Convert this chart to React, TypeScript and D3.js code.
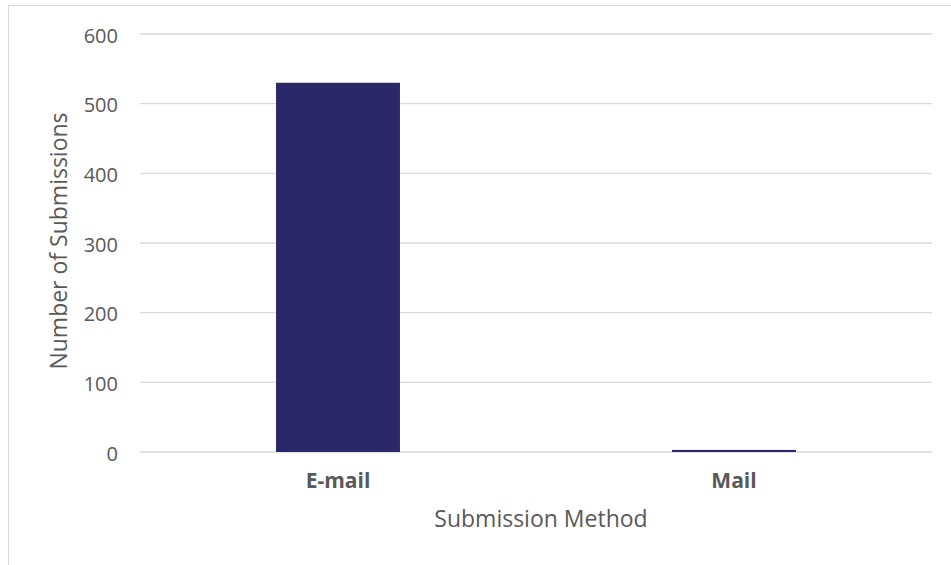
import React from "react";
import * as d3 from "d3";

const categories = ["E-mail", "Mail"];
const values = [530, 3];
const yTicks = [0, 100, 200, 300, 400, 500, 600];

export default function App() {
  const W = 951, H = 565;
  const x = d3.scaleBand<string>().domain(categories).range([140, 932]).paddingInner(0.687).paddingOuter(0.3435);
  const y = d3.scaleLinear().domain([0, 600]).range([452, 34]);
  const font = "'Open Sans', sans-serif";
  return (
    <svg width={W} height={H} style={{ position: "absolute", left: 0, top: 0 }}>
      <rect x={0} y={0} width={W} height={H} fill="#fff" />
      <rect x={8.5} y={5.5} width={W + 20} height={H + 20} fill="none" stroke="#d9d9d9" />
      {yTicks.map((t) => (
        <g key={t}>
          <line x1={140} x2={932} y1={y(t)} y2={y(t)} stroke="#d9d9d9" strokeWidth={1.3} />
          <text x={118} y={y(t) + 8.5} textAnchor="end" fontFamily={font} fontSize={20} fill="#595959">{t}</text>
        </g>
      ))}
      {categories.map((c, i) => (
        <g key={c}>
          <rect x={x(c)} y={y(values[i])} width={x.bandwidth()} height={y(0) - y(values[i])} fill="#2b2869" />
          <text x={(x(c) as number) + x.bandwidth() / 2} y={488} textAnchor="middle" fontFamily={font} fontSize={21} fontWeight="bold" fill="#595959">{c}</text>
        </g>
      ))}
      <text x={541} y={527} textAnchor="middle" fontFamily={font} fontSize={23} fill="#595959">Submission Method</text>
      <text transform={`translate(67,241) rotate(-90)`} textAnchor="middle" fontFamily={font} fontSize={23} fill="#595959">Number of Submissions</text>
    </svg>
  );
}
